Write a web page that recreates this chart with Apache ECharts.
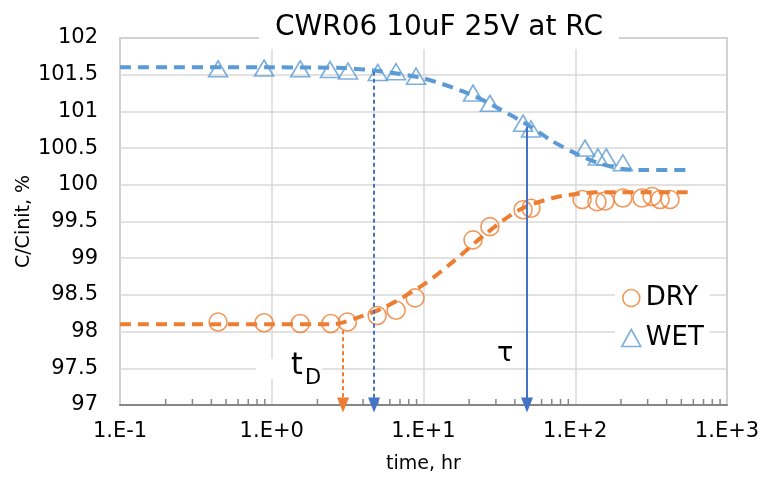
<!DOCTYPE html>
<html>
<head>
<meta charset="utf-8">
<script src="https://cdn.jsdelivr.net/npm/echarts@6/dist/echarts.min.js"></script>
<style>html,body{margin:0;padding:0;background:#fff;}#c{width:768px;height:502px;}</style>
</head>
<body>
<div id="c"></div>
<script>
// ---- data ----
const titleText = 'CWR06 10uF 25V at RC';
const xTickLabels = ['1.E-1', '1.E+0', '1.E+1', '1.E+2', '1.E+3'];
const xMinorTicks = [0.2,0.3,0.4,0.5,0.6,0.7,0.8,0.9,2,3,4,5,6,7,8,9,20,30,40,50,60,70,80,90,200,300,400,500,600,700,800,900];

const dryT = [0.443, 0.89, 1.54, 2.45, 3.15, 4.95, 6.6, 8.8, 21.2, 27.4, 45.3, 51.1, 111, 139, 157, 206, 275, 321, 362, 421];
const dryC = [98.13, 98.12, 98.11, 98.11, 98.13, 98.22, 98.29, 98.46, 99.25, 99.43, 99.66, 99.68, 99.80, 99.77, 99.78, 99.82, 99.82, 99.84, 99.80, 99.80];

const wetT = [0.443, 0.89, 1.54, 2.42, 3.18, 5.0, 6.59, 8.93, 21.2, 27.4, 45.3, 51.1, 116, 141, 160, 206];
const wetC = [101.58, 101.59, 101.58, 101.57, 101.55, 101.53, 101.54, 101.48, 101.25, 101.11, 100.84, 100.76, 100.50, 100.38, 100.38, 100.30];

const dryFitT = [0.1, 1, 2.5, 3, 3.8, 5.4, 10, 15.6, 26, 43, 71, 119, 200, 570];
const dryFitC = [98.1, 98.1, 98.1, 98.13, 98.2, 98.32, 98.64, 98.95, 99.34, 99.66, 99.82, 99.89, 99.9, 99.9];

const wetFitT = [0.1, 1, 3, 5, 10, 20, 30, 50, 70, 100, 140, 200, 300, 590];
const wetFitC = [101.6, 101.6, 101.59, 101.55, 101.45, 101.24, 101.06, 100.8, 100.6, 100.43, 100.3, 100.22, 100.2, 100.2];

// annotation arrows: [time, start value]
const tDArrow = [2.95, 98.02];
const wetDArrow = [4.72, 101.54];
const tauArrow = [48.1, 100.79];

const ORANGE = '#ED7D31', BLUE = '#5B9BD5', DBLUE = '#4472C4';
const FONT = 'DejaVu Sans';

const zip = (a, b) => a.map((v, i) => [v, b[i]]);

const chart = echarts.init(document.getElementById('c'), null, {renderer: 'canvas'});

chart.setOption({
  animation: false,
  backgroundColor: '#fff',
  title: {
    text: titleText,
    left: 259, top: 7,
    padding: [6, 16, 6, 16],
    backgroundColor: '#fff',
    textStyle: {fontFamily: FONT, fontSize: 28, fontWeight: 'normal', color: '#000', lineHeight: 30},
    z: 10
  },
  grid: {left: 120, right: 41, top: 38, bottom: 97, show: true, borderColor: '#a6a6a6', borderWidth: 1.5, backgroundColor: 'transparent'},
  legend: {
    orient: 'vertical', left: 615, top: 282,
    itemWidth: 19, itemHeight: 17, itemGap: 12,
    padding: [2, 6],
    backgroundColor: '#fff',
    textStyle: {fontFamily: FONT, fontSize: 26, color: '#000', lineHeight: 28},
    data: [
      {name: 'DRY', icon: 'circle', itemStyle: {color: 'rgba(0,0,0,0)', borderColor: ORANGE, borderWidth: 1.6}},
      {name: 'WET', icon: 'triangle', itemStyle: {color: 'rgba(0,0,0,0)', borderColor: BLUE, borderWidth: 1.6}}
    ]
  },
  xAxis: {
    type: 'log', logBase: 10, min: 0.1, max: 1000,
    name: 'time, hr', nameLocation: 'middle', nameGap: 50, nameMoveOverlap: false,
    nameTextStyle: {fontFamily: FONT, fontSize: 19, color: '#000'},
    axisLine: {show: true, lineStyle: {color: '#868686', width: 2}},
    axisTick: {show: false},
    axisLabel: {fontFamily: FONT, fontSize: 21, color: '#000', margin: 16,
      formatter: v => xTickLabels[Math.round(Math.log10(v)) + 1]},
    splitLine: {show: true, lineStyle: {color: '#d9d9d9', width: 1.5}},
    minorTick: {show: false}
  },
  yAxis: {
    type: 'value', min: 97, max: 102, interval: 0.5,
    name: 'C/Cinit, %', nameLocation: 'middle', nameGap: 86, nameRotate: 90, nameMoveOverlap: false,
    nameTextStyle: {fontFamily: FONT, fontSize: 19, color: '#000'},
    axisLine: {show: false},
    axisTick: {show: false},
    axisLabel: {fontFamily: FONT, fontSize: 21, color: '#000', margin: 22},
    splitLine: {show: true, lineStyle: {color: '#d9d9d9', width: 1.5}}
  },
  series: [
    {
      name: 'minor ticks', type: 'custom', silent: true, z: 3,
      data: xMinorTicks.map(v => [v, 97]),
      renderItem: function (params, api) {
        const p = api.coord([api.value(0), 97]);
        return {type: 'line', shape: {x1: p[0], y1: p[1], x2: p[0], y2: p[1] - 6},
          style: {stroke: '#868686', lineWidth: 1.5}};
      }
    },
    {
      name: 'WET fit', type: 'line', data: zip(wetFitT, wetFitC), smooth: 0.3,
      symbol: 'none', silent: true, z: 2,
      lineStyle: {color: BLUE, width: 4, type: [11, 7]}
    },
    {
      name: 'DRY fit', type: 'line', data: zip(dryFitT, dryFitC), smooth: 0.3,
      symbol: 'none', silent: true, z: 2,
      lineStyle: {color: ORANGE, width: 4, type: [11, 7]}
    },
    {
      name: 'WET', type: 'scatter', data: zip(wetT, wetC),
      symbol: 'triangle', symbolSize: [19, 16], z: 4,
      itemStyle: {color: 'rgba(0,0,0,0)', borderColor: BLUE, borderWidth: 1.6},
      markLine: {
        silent: true, symbol: ['none', 'triangle'], symbolSize: [12, 15],
        label: {show: false}, emphasis: {disabled: true},
        data: [
          [{coord: wetDArrow, lineStyle: {color: DBLUE, width: 2, type: [4, 3]}, itemStyle: {color: DBLUE}},
           {coord: [wetDArrow[0], 97]}],
          [{coord: tauArrow, lineStyle: {color: DBLUE, width: 2, type: 'solid'}, itemStyle: {color: DBLUE}},
           {coord: [tauArrow[0], 97]}]
        ]
      }
    },
    {
      name: 'DRY', type: 'scatter', data: zip(dryT, dryC),
      symbol: 'circle', symbolSize: 18, z: 4,
      itemStyle: {color: 'rgba(0,0,0,0)', borderColor: ORANGE, borderWidth: 1.6},
      markLine: {
        silent: true, symbol: ['none', 'triangle'], symbolSize: [12, 15],
        label: {show: false}, emphasis: {disabled: true},
        itemStyle: {color: ORANGE},
        lineStyle: {color: ORANGE, width: 2, type: [4, 3]},
        data: [[{coord: tDArrow}, {coord: [tDArrow[0], 97]}]]
      }
    }
  ],
  graphic: [
    {type: 'rect', z: 1, shape: {x: 256, y: 359, width: 66, height: 20}, style: {fill: '#fff'}},
    {type: 'text', z: 5, left: 291, top: 351, style: {text: 't', font: '30px "DejaVu Sans"', fill: '#000'}},
    {type: 'text', z: 5, left: 305, top: 368, style: {text: 'D', font: '21px "DejaVu Sans"', fill: '#000'}},
    {type: 'text', z: 5, left: 497, top: 340, style: {text: 'τ', font: '27px "DejaVu Sans"', fill: '#000'}}
  ]
});
</script>
</body>
</html>
